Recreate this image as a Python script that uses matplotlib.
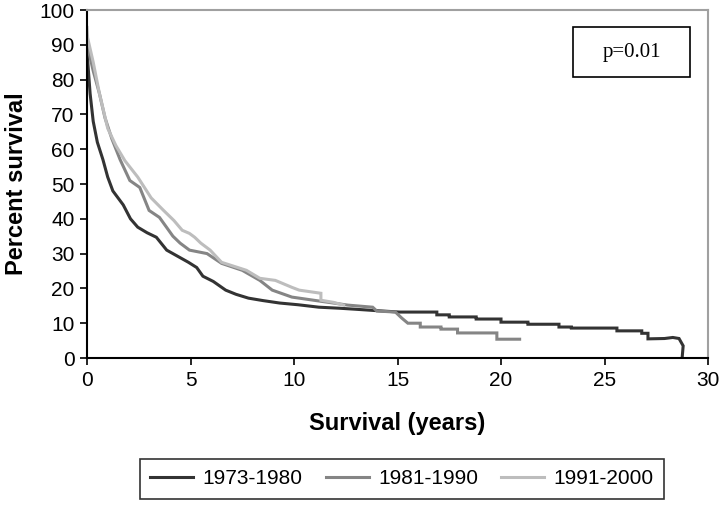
import matplotlib
matplotlib.use("Agg")
import matplotlib.pyplot as plt
from matplotlib.patches import Rectangle

plt.rcParams['font.family'] = ['Liberation Sans', 'DejaVu Sans']

labels = ["1973-1980", "1981-1990", "1991-2000"]
colors = ["#333333", "#858585", "#bdbdbd"]

t_1973 = [0.0, 0.05, 0.15, 0.3, 0.5, 0.77, 1.0, 1.25, 1.5, 1.75, 2.1, 2.45, 2.9, 3.35, 3.85, 4.45, 4.9, 5.3, 5.6, 6.1, 6.7, 7.2, 7.8, 8.5, 9.3, 10.2, 11.2, 12.2, 13.0, 14.0, 15.1,
          16.9, 16.9, 17.5, 17.5, 18.8, 18.8, 20.0, 20.0, 21.3, 21.3, 22.8, 22.8, 23.4, 23.4, 25.6, 25.6, 26.8, 26.8, 27.1, 27.1, 27.9, 28.3, 28.6, 28.8, 28.75]
p_1973 = [89, 84, 76, 68, 62, 57, 52, 48, 46, 44, 40, 37.6, 36, 34.7, 31, 29, 27.5, 26, 23.5, 22, 19.5, 18.3, 17.2, 16.5, 15.8, 15.3, 14.6, 14.3, 14.0, 13.6, 13.2,
          13.2, 12.4, 12.4, 11.8, 11.8, 11.2, 11.2, 10.3, 10.3, 9.7, 9.7, 8.9, 8.9, 8.6, 8.6, 7.8, 7.8, 7.1, 7.1, 5.5, 5.6, 5.9, 5.6, 3.5, 0]

t_1981 = [0.0, 0.05, 0.3, 0.6, 0.87, 1.2, 1.6, 2.07, 2.55, 3.0, 3.5, 3.85, 4.15, 4.5, 4.95, 5.8, 6.5, 7.5, 8.35, 8.95, 9.9, 11.3, 12.6, 13.8, 14.0, 14.9, 15.2, 15.5,
          16.1, 16.1, 17.1, 17.1, 17.9, 17.9, 19.8, 19.8, 20.9]
p_1981 = [92, 89, 82.5, 76, 69, 63, 57, 51, 49, 42.4, 40.4, 37.5, 35, 33, 31, 30, 27.2, 25.2, 22.3, 19.5, 17.5, 16.3, 15.2, 14.6, 13.5, 13.2, 11.5, 10,
          10, 8.9, 8.9, 8.3, 8.3, 7.2, 7.2, 5.4, 5.4]

t_1991 = [0.0, 0.03, 0.3, 0.6, 1.0, 1.4, 1.83, 2.45, 3.1, 3.7, 4.2, 4.6, 4.95, 5.2, 5.5, 5.95, 6.5, 7.7, 8.35, 9.1, 9.9, 10.25, 11.3, 11.3, 11.9, 12.4]
p_1991 = [95, 92, 85, 76, 66, 61, 56.7, 52, 46, 42.4, 39.5, 36.7, 35.8, 34.7, 33, 31, 27.5, 25.2, 22.9, 22.3, 20.3, 19.5, 18.6, 16.6, 16.0, 15.2]

series = [(t_1973, p_1973), (t_1981, p_1981), (t_1991, p_1991)]

fig = plt.figure(figsize=(7.2, 5.08), dpi=100)
ax = fig.add_axes([87/720, 1-358/508, (708-87)/720, (358-10)/508])

for (t, p), c, lab in zip(series, colors, labels):
    ax.plot(t, p, color=c, lw=2.2, label=lab, solid_joinstyle='miter')

ax.set_xlim(0, 30)
ax.set_ylim(0, 100)
ax.set_xticks([0, 5, 10, 15, 20, 25, 30])
ax.set_yticks(range(0, 101, 10))
ax.tick_params(direction='out', length=5, width=1.2, labelsize=15, colors='black', pad=4)
for s in ['left', 'bottom']:
    ax.spines[s].set_color('black')
    ax.spines[s].set_linewidth(1.5)
for s in ['top', 'right']:
    ax.spines[s].set_color('#a0a0a0')
    ax.spines[s].set_linewidth(1.5)

ax.set_xlabel("Survival (years)", fontsize=17, fontweight='bold', labelpad=16)
ax.set_ylabel("Percent survival", fontsize=17, fontweight='bold', labelpad=8)

ax.add_patch(Rectangle((0.783, 0.807), 0.188, 0.144, transform=ax.transAxes,
                       fc='white', ec='black', lw=1.2, zorder=5))
ax.text(0.877, 0.879, "p=0.01", transform=ax.transAxes, ha='center', va='center',
        fontsize=15, family=['Liberation Serif', 'DejaVu Serif'], zorder=6)

leg = fig.legend(loc='center', bbox_to_anchor=(402/720, 1-479/508), ncol=3,
                 fontsize=15, frameon=True, fancybox=False, edgecolor='black',
                 handlelength=2.07, columnspacing=1.1, handletextpad=0.45,
                 borderpad=0.5, borderaxespad=0)
leg.get_frame().set_linewidth(1.2)

fig.savefig("out.png", dpi=100)
